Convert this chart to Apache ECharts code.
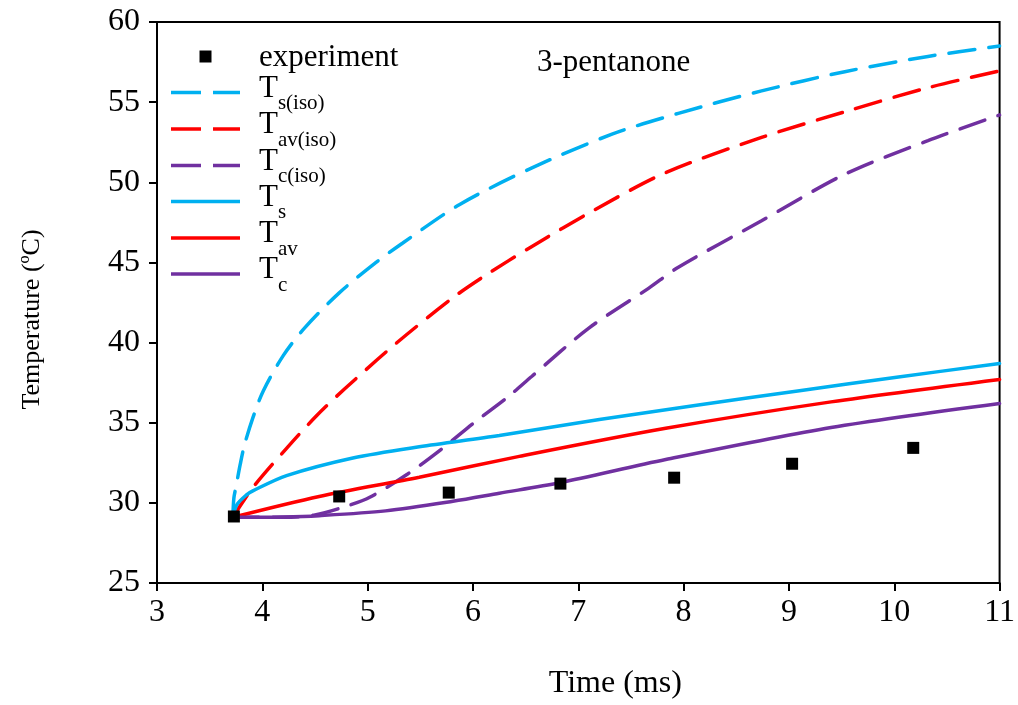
<!DOCTYPE html>
<html>
<head>
<meta charset="utf-8">
<script src="https://cdn.jsdelivr.net/npm/echarts@6/dist/echarts.min.js"></script>
<style>
  html, body { margin: 0; padding: 0; background: #fff; }
  #chart { width: 1018px; height: 705px; }
</style>
</head>
<body>
<div id="chart"></div>
<script>
// measured points
var expTime = [3.73, 4.73, 5.77, 6.83, 7.91, 9.03, 10.18];
var expTemp = [29.15, 30.4, 30.64, 31.2, 31.57, 32.44, 33.43];

// model curves, [time, temperature]
var tsIso = [[3.72,29.1],[3.73,30.3],[3.75,31.0],[3.79,32.4],[3.83,33.6],[3.91,35.3],[4.01,37.0],
  [4.20,39.2],[4.40,40.9],[4.73,43.1],[5.08,45.0],[5.33,46.2],[5.87,48.6],[6.56,50.9],[7.32,53.0],
  [7.95,54.3],[8.74,55.7],[9.53,56.9],[10.32,57.85],[11.0,58.5]];
var tavIso = [[3.72,29.1],[3.91,30.95],[4.23,33.4],[4.51,35.4],[4.78,37.1],[5.27,39.95],[5.81,42.8],
  [6.12,44.2],[6.56,46.0],[7.16,48.3],[7.83,50.6],[8.74,52.8],[9.53,54.4],[10.32,55.9],[11.0,56.95]];
var tcIso = [[3.72,29.1],[4.2,29.1],[4.5,29.25],[4.8,29.8],[5.02,30.35],[5.38,31.8],[5.71,33.4],
  [6.01,35.0],[6.33,36.6],[6.56,37.9],[7.10,40.9],[7.67,43.4],[7.95,44.7],[8.74,47.6],[9.53,50.5],
  [10.32,52.6],[11.0,54.2]];
var ts = [[3.72,29.1],[3.76,29.9],[3.85,30.5],[3.91,30.75],[4.23,31.7],[4.86,32.8],[5.49,33.5],
  [6.25,34.2],[7.2,35.2],[8.14,36.1],[9.1,37.0],[10.04,37.85],[11.0,38.7]];
var tav = [[3.72,29.1],[4.54,30.4],[5.49,31.6],[6.44,32.9],[7.83,34.65],[9.40,36.3],[11.0,37.7]];
var tc = [[3.72,29.1],[4.2,29.12],[4.54,29.2],[5.17,29.5],[5.81,30.1],[6.25,30.6],[6.82,31.25],
  [7.83,32.7],[9.40,34.7],[11.0,36.2]];

// legend entries and their rich-text labels
var legendNames = ['experiment', 'Ts(iso)', 'Tav(iso)', 'Tc(iso)', 'Ts', 'Tav', 'Tc'];
var legendLabels = ['{e|experiment}', '{t|T}{s|s(iso)}', '{t|T}{s|av(iso)}', '{t|T}{s|c(iso)}',
  '{t|T}{s|s}', '{t|T}{s|av}', '{t|T}{s|c}'];

var BLUE = '#00b0f0', RED = '#ff0000', PURPLE = '#7030a0';
var FONT = '"Liberation Serif", "Times New Roman", serif';
var DASH = [26, 14];

var ICON_SQUARE = 'path://M0 0H10V10H0Z';
var ICON_DASH = 'path://M0 0H30V3.5H0Z M42 0H69V3.5H42Z';
var ICON_SOLID = 'path://M0 0H69V3.5H0Z';
var legendIcons = [ICON_SQUARE, ICON_DASH, ICON_DASH, ICON_DASH, ICON_SOLID, ICON_SOLID, ICON_SOLID];
var legendCenters = [56, 92, 128.5, 165, 201, 237.5, 273.5];

function curve(name, data, color, dashed) {
    return {
        name: name,
        type: 'line',
        data: data,
        symbol: 'path://M0 0',
        showSymbol: false,
        smooth: 0.3,
        lineStyle: {
            color: color,
            width: 3.5,
            type: dashed ? DASH : 'solid',
            cap: 'round'
        },
        itemStyle: {color: color}
    };
}

var richText = {
    e: {fontSize: 31, fontFamily: FONT, lineHeight: 34, padding: [5, 0, 3, 14]},
    t: {fontSize: 31, fontFamily: FONT, lineHeight: 34, padding: [0, 0, 8, 14]},
    s: {fontSize: 21, fontFamily: FONT, lineHeight: 34, padding: [22, 0, 0, 0]}
};

var legends = legendNames.map(function (name, i) {
    return {
        orient: 'vertical',
        left: i === 0 ? 199.5 : 171,
        top: legendCenters[i] - (i === 0 ? 19 : 21),
        padding: 0,
        itemWidth: 69,
        itemHeight: 12,
        itemStyle: {borderWidth: 0},
        data: [{name: name, icon: legendIcons[i]}],
        formatter: function () { return legendLabels[i]; },
        textStyle: {color: '#000', fontFamily: FONT, rich: richText}
    };
});

var chart = echarts.init(document.getElementById('chart'));
var option = {
    backgroundColor: '#fff',
    animation: false,
    grid: {
        left: 157, right: 17, top: 22, bottom: 119,
        show: true, borderColor: '#000', borderWidth: 2
    },
    legend: legends,
    graphic: [{
        type: 'text',
        left: 537,
        top: 47,
        style: {text: '3-pentanone', font: '31px ' + FONT, fill: '#000'}
    }],
    xAxis: {
        type: 'value',
        min: 3, max: 11, interval: 1,
        name: 'Time (ms)',
        nameLocation: 'middle',
        nameGap: 85,
        nameTextStyle: {fontSize: 32, fontFamily: FONT, color: '#000', padding: [0, 0, 0, 74]},
        axisLine: {lineStyle: {color: '#000', width: 2}},
        axisTick: {show: true, length: 8, lineStyle: {color: '#000', width: 2}},
        axisLabel: {fontSize: 32, fontFamily: FONT, color: '#000', margin: 14},
        splitLine: {show: false}
    },
    yAxis: {
        type: 'value',
        min: 25, max: 60, interval: 5,
        name: 'Temperature (ºC)',
        nameLocation: 'middle',
        nameGap: 112,
        nameTextStyle: {fontSize: 26, fontFamily: FONT, color: '#000', padding: [0, 34, 0, 0]},
        axisLine: {lineStyle: {color: '#000', width: 2}},
        axisTick: {show: true, length: 8, lineStyle: {color: '#000', width: 2}},
        axisLabel: {fontSize: 32, fontFamily: FONT, color: '#000', margin: 17},
        splitLine: {show: false}
    },
    series: [
        curve('Ts(iso)', tsIso, BLUE, true),
        curve('Tav(iso)', tavIso, RED, true),
        curve('Tc(iso)', tcIso, PURPLE, true),
        curve('Ts', ts, BLUE, false),
        curve('Tav', tav, RED, false),
        curve('Tc', tc, PURPLE, false),
        {
            name: 'experiment',
            type: 'scatter',
            symbol: 'rect',
            symbolSize: 12,
            z: 5,
            itemStyle: {color: '#000', opacity: 1},
            data: expTime.map(function (t, i) { return [t, expTemp[i]]; })
        }
    ]
};
chart.setOption(option);
</script>
</body>
</html>
